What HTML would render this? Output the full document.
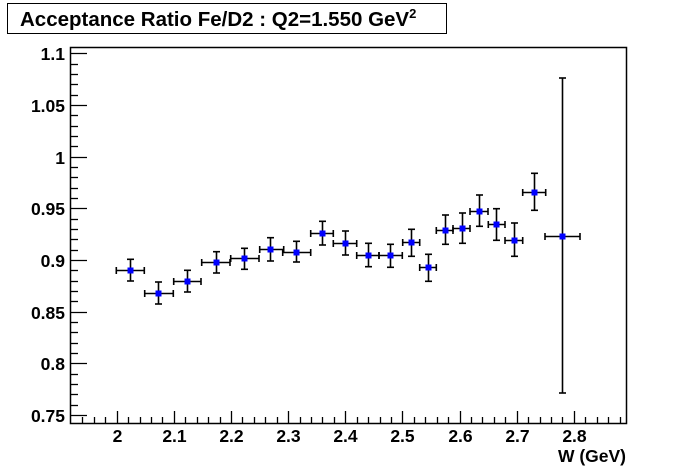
<!DOCTYPE html>
<html><head><style>body{margin:0;background:#fff}svg{display:block}text{font-family:"Liberation Sans",Arial,sans-serif;font-weight:bold;fill:#000}</style></head>
<body>
<svg id="s" width="696" height="472" xmlns="http://www.w3.org/2000/svg">
<rect x="7.5" y="3.5" width="439" height="30" fill="#fff" stroke="#000" stroke-width="1"/>
<text x="20" y="26" font-size="20.5">Acceptance Ratio Fe/D2 : Q2=1.550 GeV<tspan dy="-8" font-size="13">2</tspan></text>
<rect x="70.5" y="47.5" width="556" height="376" fill="none" stroke="#000" stroke-width="1.5"/>
<g id="ax" stroke="#000"></g>
<g id="lab" font-size="17.5"></g>
<text x="626" y="462" font-size="17.5" text-anchor="end">W (GeV)</text>
<g id="d"></g>
</svg>
<script>
var ns="http://www.w3.org/2000/svg",ax=document.getElementById('ax'),lab=document.getElementById('lab'),d=document.getElementById('d');
function L(p,x1,y1,x2,y2,w){var l=document.createElementNS(ns,'line');l.setAttribute('x1',x1);l.setAttribute('y1',y1);l.setAttribute('x2',x2);l.setAttribute('y2',y2);l.setAttribute('stroke','#000');l.setAttribute('stroke-width',w||1);p.appendChild(l);}
function T(x,y,s,a){var t=document.createElementNS(ns,'text');t.setAttribute('x',x);t.setAttribute('y',y);t.setAttribute('text-anchor',a);t.textContent=s;lab.appendChild(t);}
function Y(v){return 260-(v-0.9)*1034;}
for(var i=0;i<=36;i++){var v=0.75+i*0.01;if(v>1.107)break;var y=Math.round(Y(v))+0.5;var maj=i%5==0;L(ax,70,y,maj?87:78,y,1.3);if(maj){var s=(Math.round(v*100)/100).toString();T(65,y+6.5,s,'end');}}
for(var i=-4;i<=44;i++){var x=116.7+i*11.43;if(x<71||x>626)continue;x=Math.round(x)+0.5;var maj=(i%5==0);L(ax,x,423,x,maj?411:417,1.3);if(maj&&i>=0&&i<=40){T(x,442,(2+i/50).toFixed(1).replace('2.0','2'),'middle');}}
var P=[[130,270,116.3,144.3,259.3,281],[158,293,144.7,173.3,282,304],[187,281,173.7,201,270.3,292],[216,262,201.7,230,251.7,273],[244,258,230.7,259,248.3,269.3],[270,249,259.7,283.7,237.7,261],[296,252,282.7,310.7,241.3,262],[322,233,310.7,333.3,221.3,245],[345,243,333.3,356.7,231,255],[368,255,356.7,379,243.3,266.7],[390,255,379,402.3,244.3,267.3],[411,242,402.7,419.7,229.3,256.3],[428,267,419.7,436.3,254.3,281.3],[445,230,436.3,453,215,244.3],[462,228,453,470,213,243.3],[479,211,470,488,195,226.3],[496,224,488.3,505,208.7,240.3],[514,240,505,522.7,223,256.3],[534,192,522.7,545.7,173.3,210.3],[562,236,545,580,78,393]];
P.forEach(function(p){var x=p[0]+0.5,y=p[1]+0.5,w=1.6;L(d,p[2],y,p[3],y,w);L(d,x,p[4],x,p[5],w);L(d,p[2],y-3.5,p[2],y+3.5,w);L(d,p[3],y-3.5,p[3],y+3.5,w);L(d,x-3.5,p[4],x+3.5,p[4],w);L(d,x-3.5,p[5],x+3.5,p[5],w);var r=document.createElementNS(ns,'rect');r.setAttribute('x',p[0]-2.5);r.setAttribute('y',p[1]-2.5);r.setAttribute('width',6);r.setAttribute('height',6);r.setAttribute('fill','#0000ff');d.appendChild(r);});
</script>
</body></html>
